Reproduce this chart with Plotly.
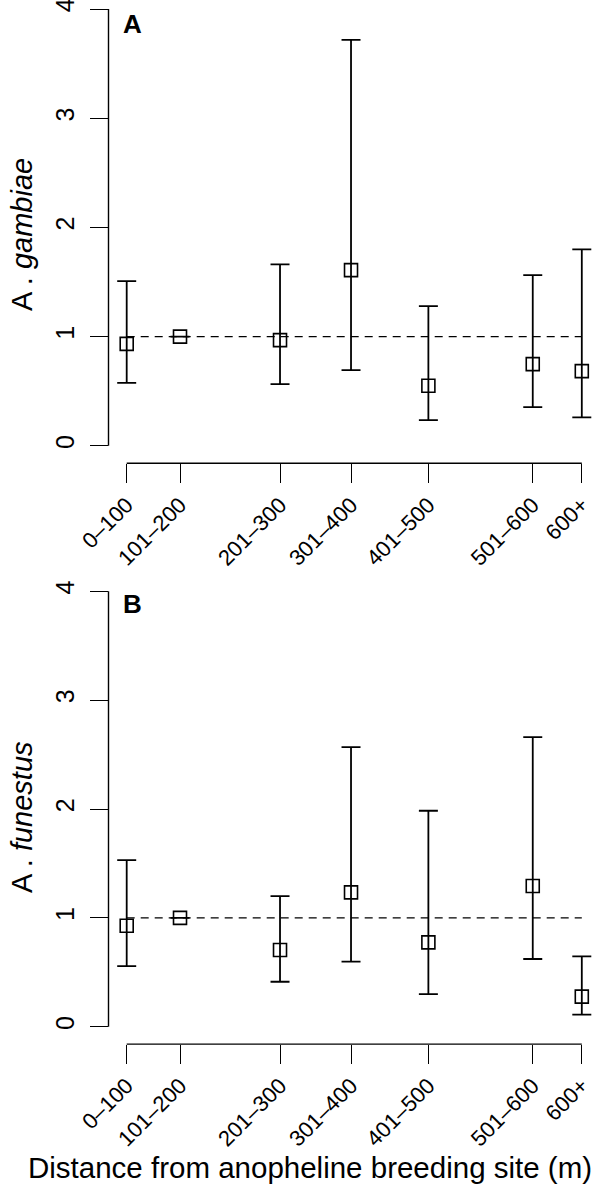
"""Odds ratios by distance from anopheline breeding site, two panels (R base-graphics look)."""

import plotly.graph_objects as go

# distance classes and their positions along the x axis (non-uniform, as in the figure)
categories = ["0–100", "101–200", "201–300", "301–400", "401–500", "501–600", "600+"]
x_pos = [1.0, 2.0, 3.876, 5.208, 6.659, 8.617, 9.537]

# panel A: A. gambiae (101–200 is the reference class)
gambiae_est = [0.934, 1.0, 0.968, 1.609, 0.55, 0.748, 0.684]
gambiae_low = [0.577, None, 0.565, 0.693, 0.235, 0.354, 0.26]
gambiae_high = [1.508, None, 1.661, 3.718, 1.279, 1.563, 1.798]

# panel B: A. funestus
funestus_est = [0.927, 1.0, 0.704, 1.234, 0.775, 1.292, 0.276]
funestus_low = [0.557, None, 0.413, 0.597, 0.30, 0.622, 0.11]
funestus_high = [1.531, None, 1.2, 2.568, 1.984, 2.66, 0.646]

y_ticks = [0, 1, 2, 3, 4]

W, H = 600, 1184
FONT = "Liberation Sans, Arial, Helvetica, sans-serif"
BLACK = "#000000"


def err(est, lo, hi):
    plus = [None if h is None else h - e for e, h in zip(est, hi)]
    minus = [None if l is None else e - l for e, l in zip(est, lo)]
    return plus, minus


fig = go.Figure()

panels = [
    ("x", "y", gambiae_est, gambiae_low, gambiae_high),
    ("x2", "y2", funestus_est, funestus_low, funestus_high),
]

for xa, ya, est, lo, hi in panels:
    plus, minus = err(est, lo, hi)
    # reference line at OR = 1
    fig.add_trace(go.Scatter(
        x=[x_pos[0], x_pos[-1]], y=[1, 1], mode="lines",
        line=dict(color=BLACK, width=1.4, dash="8px,6px"),
        xaxis=xa, yaxis=ya, hoverinfo="skip", showlegend=False,
    ))
    fig.add_trace(go.Scatter(
        x=x_pos, y=est, mode="markers",
        marker=dict(symbol="square-open", size=13, color=BLACK, line=dict(width=1.6)),
        error_y=dict(type="data", array=plus, arrayminus=minus, symmetric=False,
                     color=BLACK, thickness=1.8, width=9.5),
        xaxis=xa, yaxis=ya, showlegend=False,
    ))

# domains in pixels -> paper fractions
left = 108.5 / W
a_bottom = 1 - 463.3 / H
b_top, b_bottom = 1 - 573.9 / H, 1 - 1044.1 / H

x_range = [x_pos[0] - 0.04 * (x_pos[-1] - x_pos[0]), x_pos[-1] + 0.04 * (x_pos[-1] - x_pos[0])]

xaxis_common = dict(
    range=x_range, tickvals=x_pos, ticktext=categories, tickangle=-45,
    ticks="outside", ticklen=19, tickwidth=1.4, tickcolor=BLACK,
    tickfont=dict(family=FONT, size=22, color=BLACK), ticklabeloverflow="allow",
    showline=False, showgrid=False, zeroline=False, domain=[left, 1], automargin=False,
)
yaxis_common = dict(
    tickvals=y_ticks, ticktext=[str(t) for t in y_ticks], tickangle=-90,
    ticks="outside", ticklen=18, tickwidth=1.4, tickcolor=BLACK,
    tickfont=dict(family=FONT, size=25, color=BLACK), ticklabeloverflow="allow",
    showline=False, showgrid=False, zeroline=False, ticklabelstandoff=6, automargin=False,
)

fig.update_layout(
    width=W, height=H,
    margin=dict(l=0, r=0, t=0, b=0, autoexpand=False),
    paper_bgcolor="white", plot_bgcolor="white",
    font=dict(family=FONT, color=BLACK),
    xaxis=dict(xaxis_common, anchor="y"),
    yaxis=dict(yaxis_common, range=[-0.16, 4 + 9 / 109.2], domain=[a_bottom, 1], anchor="x"),
    xaxis2=dict(xaxis_common, anchor="y2"),
    yaxis2=dict(yaxis_common, range=[-0.16, 4.16], domain=[b_bottom, b_top], anchor="x2"),
)

# R-style detached axis lines: y from 0 to 4, x from first to last class
for xa, ya in [("x", "y"), ("x2", "y2")]:
    fig.add_shape(type="line", xref=f"{xa} domain", yref=ya, x0=0, x1=0, y0=0, y1=4,
                  line=dict(color=BLACK, width=1.4))
    fig.add_shape(type="line", xref=xa, yref=f"{ya} domain", x0=x_pos[0], x1=x_pos[-1], y0=0, y1=0,
                  line=dict(color=BLACK, width=1.4))

# panel letters and axis titles
for letter, ypx in [("A", 24), ("B", 604)]:
    fig.add_annotation(text=f"<b>{letter}</b>", x=132 / W, y=1 - ypx / H, xref="paper", yref="paper",
                       xanchor="center", yanchor="middle", showarrow=False,
                       font=dict(family=FONT, size=26, color=BLACK))

for label, ypx in [("A . <i>gambiae</i>", 235), ("A . <i>funestus</i>", 817)]:
    fig.add_annotation(text=label, x=22 / W, y=1 - ypx / H, xref="paper", yref="paper",
                       xanchor="center", yanchor="middle", textangle=-90, showarrow=False,
                       font=dict(family=FONT, size=29, color=BLACK))

fig.add_annotation(text="Distance from anopheline breeding site (m)", x=310 / W, y=1 - 1167 / H,
                   xref="paper", yref="paper", xanchor="center", yanchor="middle", showarrow=False,
                   font=dict(family=FONT, size=29.5, color=BLACK))

# drop the default page margin so the 600x1184 figure fills the window
fig.write_html("out.html", config={"displayModeBar": False},
               post_script="document.body.style.margin = '0';")
